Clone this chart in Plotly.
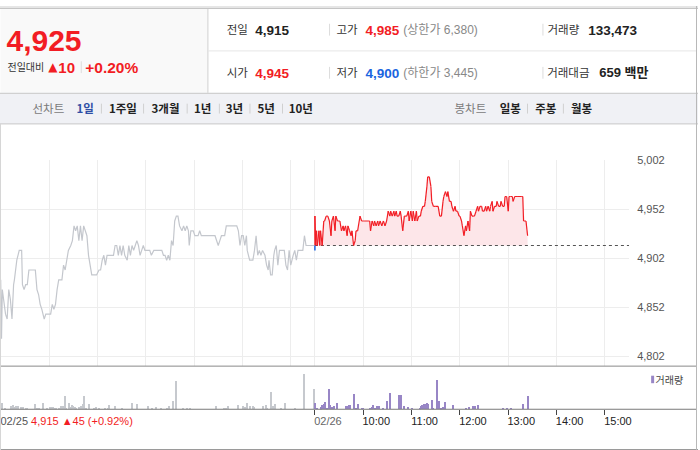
import plotly.graph_objects as go

W, H = 700, 450


def px(x):
    return x / W


def py(y):
    return 1 - y / H


# ---------------- header data ----------------
stock_price = 4925
change_abs = 10
change_pct = 0.20
prev_close = 4915
open_price = 4945
high_price = 4985
low_price = 4900
upper_limit = 6380
lower_limit = 3445
volume_total = 133473
amount_mil = 659

day1_label = "02/25"
day1_close = 4915
day1_change = 45
day1_change_pct = 0.92
day2_label = "02/26"
session_minutes = 390

period_tabs = ["1일", "1주일", "3개월", "1년", "3년", "5년", "10년"]
candle_tabs = ["일봉", "주봉", "월봉"]

# ---------------- price series (minutes from 09:00) ----------------
d1_min = [0, 1, 2, 4, 6, 8, 10, 12, 14, 16, 17, 20, 23, 26, 27, 29, 31, 33, 35, 39, 43, 45, 47, 49, 51, 54, 56,
          62, 64, 66, 68, 70, 72, 76, 78, 80, 82, 84, 87, 89, 91, 93, 95, 97, 99, 101, 103, 105, 107, 109, 111,
          113, 119, 122, 124, 126, 128, 130, 132, 134, 136, 140, 142, 144, 146, 148, 150, 152, 154, 157, 159,
          161, 163, 165, 167, 169, 171, 173, 175, 177, 179, 185, 187, 190, 200, 202, 204, 206, 208, 210, 212,
          214, 216, 218, 220, 222, 225, 227, 229, 231, 233, 234, 236, 239, 241, 245, 247, 249, 266, 268, 270,
          272, 274, 278, 280, 293, 295, 297, 299, 301, 303, 305, 306, 309, 313, 315, 317, 319, 321, 323, 325,
          328, 330, 332, 333, 335, 337, 339, 340, 342, 344, 346, 352, 354, 356, 358, 360, 363, 365, 367, 369,
          373, 375, 377, 379, 389]
d1_price = [4880, 4820, 4870, 4855, 4845, 4840, 4870, 4860, 4840, 4875, 4880, 4900, 4910, 4910, 4875, 4870,
            4875, 4875, 4890, 4890, 4890, 4870, 4865, 4855, 4850, 4840, 4845, 4845, 4855, 4850, 4855, 4870,
            4880, 4880, 4895, 4890, 4900, 4910, 4915, 4920, 4935, 4930, 4935, 4920, 4935, 4920, 4935, 4930,
            4925, 4905, 4895, 4885, 4885, 4890, 4890, 4900, 4905, 4895, 4905, 4905, 4905, 4905, 4915, 4915,
            4905, 4915, 4905, 4915, 4905, 4900, 4915, 4905, 4915, 4910, 4915, 4920, 4915, 4905, 4910, 4915,
            4910, 4910, 4905, 4910, 4910, 4905, 4905, 4900, 4905, 4900, 4920, 4915, 4940, 4945, 4945, 4935,
            4930, 4935, 4930, 4935, 4930, 4915, 4930, 4930, 4925, 4925, 4930, 4925, 4925, 4920, 4915, 4920,
            4925, 4925, 4935, 4935, 4930, 4915, 4925, 4925, 4915, 4925, 4910, 4900, 4900, 4910, 4925, 4905,
            4910, 4905, 4910, 4905, 4895, 4890, 4900, 4885, 4885, 4905, 4910, 4915, 4895, 4910, 4910, 4895,
            4890, 4910, 4895, 4905, 4910, 4900, 4910, 4910, 4910, 4925, 4915, 4915]

d2_min = [0, 0, 1, 2, 3, 5, 6, 7, 9, 11, 12, 14, 16, 18, 20, 21, 23, 25, 26, 28, 30, 31, 33, 35, 36, 38, 40,
          41, 43, 45, 46, 48, 50, 51, 53, 55, 56, 58, 60, 62, 66, 68, 69, 71, 73, 74, 76, 78, 79, 81, 83, 85,
          87, 89, 91, 93, 94, 96, 98, 99, 101, 102, 104, 106, 107, 109, 111, 112, 114, 116, 117, 119, 121, 122,
          124, 126, 127, 129, 131, 132, 134, 136, 137, 139, 140, 142, 144, 145, 147, 149, 150, 153, 155, 157,
          159, 160, 162, 164, 165, 167, 169, 170, 172, 174, 175, 177, 179, 180, 182, 183, 185, 187, 188, 190,
          192, 193, 195, 197, 198, 200, 202, 203, 205, 207, 208, 210, 212, 213, 215, 217, 218, 220, 221, 223,
          225, 226, 228, 230, 231, 233, 235, 236, 238, 240, 241, 243, 245, 246, 248, 252, 256, 258, 259, 262,
          264]
d2_price = [4910, 4945, 4915, 4930, 4915, 4930, 4915, 4930, 4915, 4940, 4940, 4945, 4945, 4940, 4925, 4940,
            4945, 4930, 4945, 4940, 4940, 4940, 4930, 4935, 4930, 4935, 4925, 4935, 4930, 4925, 4930, 4915,
            4920, 4930, 4930, 4940, 4945, 4940, 4940, 4940, 4940, 4940, 4930, 4940, 4935, 4940, 4935, 4940,
            4935, 4940, 4935, 4940, 4935, 4940, 4950, 4945, 4950, 4945, 4950, 4945, 4950, 4945, 4945, 4950,
            4945, 4930, 4945, 4945, 4945, 4950, 4940, 4950, 4940, 4950, 4940, 4950, 4940, 4945, 4945, 4950,
            4955, 4955, 4960, 4975, 4985, 4985, 4975, 4960, 4955, 4955, 4955, 4955, 4945, 4945, 4960, 4965,
            4970, 4965, 4970, 4960, 4960, 4955, 4950, 4955, 4950, 4950, 4945, 4945, 4940, 4935, 4925, 4935,
            4930, 4940, 4930, 4950, 4945, 4945, 4945, 4950, 4955, 4950, 4955, 4955, 4950, 4950, 4955, 4950,
            4955, 4950, 4955, 4960, 4950, 4955, 4955, 4960, 4955, 4955, 4960, 4955, 4955, 4965, 4965, 4950,
            4965, 4965, 4965, 4960, 4965, 4965, 4965, 4965, 4940, 4940, 4925]

# ---------------- volume series ----------------
v1_min = [2, 5, 13, 15, 18, 19, 21, 25, 28, 32, 33, 42, 45, 48, 53, 57, 61, 63, 65, 67, 69, 73, 75, 77, 80, 81,
          85, 87, 89, 90, 92, 94, 97, 100, 102, 103, 106, 110, 116, 118, 122, 130, 133, 135, 142, 151, 163, 169,
          183, 188, 193, 199, 207, 209, 214, 217, 218, 226, 231, 235, 267, 277, 280, 282, 294, 301, 303, 306,
          310, 313, 315, 326, 329, 330, 335, 336, 338, 341, 348, 353, 365, 376, 377, 389]
v1_vol = [2680, 400, 1200, 1480, 920, 1080, 1080, 800, 800, 400, 400, 1880, 400, 400, 2280, 400, 680, 800, 680,
          520, 400, 520, 1080, 1320, 5200, 520, 2280, 800, 1480, 1320, 800, 520, 800, 1200, 1880, 5200, 400,
          1880, 520, 800, 400, 520, 400, 1600, 1080, 400, 2280, 1880, 1080, 400, 800, 400, 520, 1080, 3200,
          11600, 400, 400, 400, 400, 1080, 400, 400, 1080, 1600, 1080, 800, 2280, 1080, 1080, 800, 1080, 1480,
          520, 6800, 1880, 1080, 1880, 400, 2280, 400, 14400, 4400, 8000]
v2_min = [0, 2, 7, 8, 9, 11, 13, 15, 17, 19, 20, 22, 24, 27, 38, 40, 42, 43, 49, 51, 54, 58, 60, 69, 71, 72, 74,
          77, 79, 84, 90, 93, 104, 107, 110, 115, 120, 130, 132, 133, 135, 138, 139, 141, 145, 147, 151, 152,
          154, 156, 157, 159, 161, 162, 171, 187, 191, 196, 199, 202, 233, 238, 243, 258, 264]
v2_vol = [2280, 400, 400, 800, 1600, 2120, 2800, 400, 8000, 1600, 800, 680, 1200, 2400, 1320, 1200, 1600, 1720,
          6000, 400, 1880, 400, 400, 520, 800, 1600, 400, 1200, 1200, 520, 3200, 6400, 5600, 5880, 1200, 920,
          400, 520, 1200, 1720, 1880, 2000, 2400, 2120, 3600, 400, 6400, 12000, 3320, 280, 520, 800, 2800, 520,
          1600, 520, 800, 1200, 1080, 1600, 400, 400, 400, 2000, 5200]

y_ticks = [4802, 4852, 4902, 4952, 5002]
hour_labels = ["10:00", "11:00", "12:00", "13:00", "14:00", "15:00"]

# ---------------- colours ----------------
RED = "#f21d24"
BLUE = "#1a64e0"
GRAY_LINE = "#c4c7cd"
GRAY_BAR = "#c6c9ce"
PURPLE = "#9886c6"
PINK = "#fde6e9"
GRID = "#ededed"

NUM = "Liberation Sans, Noto Sans CJK KR, sans-serif"
KR = "Noto Sans CJK KR, sans-serif"

d2_x = [session_minutes + m for m in d2_min]
v2_x = [session_minutes + m for m in v2_min]


def split_segments(xs, ys, base):
    rx, ry, bx, by = [], [], [], []
    for i in range(len(xs) - 1):
        x0, y0, x1, y1 = xs[i], ys[i], xs[i + 1], ys[i + 1]
        if y0 >= base and y1 >= base:
            rx += [x0, x1, None]
            ry += [y0, y1, None]
        elif y0 <= base and y1 <= base:
            bx += [x0, x1, None]
            by += [y0, y1, None]
        else:
            t = (base - y0) / (y1 - y0)
            xc = x0 + t * (x1 - x0)
            if y0 < base:
                bx += [x0, xc, None]
                by += [y0, base, None]
                rx += [xc, x1, None]
                ry += [base, y1, None]
            else:
                rx += [x0, xc, None]
                ry += [y0, base, None]
                bx += [xc, x1, None]
                by += [base, y1, None]
    return rx, ry, bx, by


rx, ry, bx, by = split_segments(d2_x, d2_price, prev_close)

fig = go.Figure()

# day 1 grey line
fig.add_trace(go.Scatter(x=d1_min, y=d1_price, mode="lines",
                         line=dict(color=GRAY_LINE, width=1.2), hoverinfo="skip"))
# fill area day 2
fig.add_trace(go.Scatter(x=d2_x, y=[prev_close] * len(d2_x), mode="lines",
                         line=dict(width=0, color="rgba(0,0,0,0)"), hoverinfo="skip"))
fig.add_trace(go.Scatter(x=d2_x, y=[max(p, prev_close) for p in d2_price], mode="lines",
                         line=dict(width=0, color="rgba(0,0,0,0)"), fill="tonexty",
                         fillcolor=PINK, hoverinfo="skip"))
# previous close dotted line
fig.add_trace(go.Scatter(x=[session_minutes, 2 * session_minutes], y=[prev_close, prev_close],
                         mode="lines", line=dict(color="#555555", width=1, dash="dot"), hoverinfo="skip"))
fig.add_trace(go.Scatter(x=rx, y=ry, mode="lines", line=dict(color=RED, width=1.2),
                         hoverinfo="skip", connectgaps=False))
fig.add_trace(go.Scatter(x=bx, y=by, mode="lines", line=dict(color=BLUE, width=1.5),
                         hoverinfo="skip", connectgaps=False))

# volume bars
fig.add_trace(go.Bar(x=v1_min, y=v1_vol, width=1.3, marker=dict(color=GRAY_BAR, line=dict(width=0)),
                     xaxis="x2", yaxis="y2", hoverinfo="skip"))
fig.add_trace(go.Bar(x=v2_x, y=v2_vol, width=1.3, marker=dict(color=PURPLE, line=dict(width=0)),
                     xaxis="x2", yaxis="y2", hoverinfo="skip"))

x_range = [-0.87, 2 * session_minutes + 0.1]
grid_x = [60 * k for k in range(1, 7)] + [session_minutes] + [session_minutes + 60 * k for k in range(1, 7)]
tick_x = [0, session_minutes] + [session_minutes + 60 * k for k in range(1, 7)]
tick_text = ["", f"<span style='color:#666'>{day2_label}</span>"] + hour_labels

fig.update_layout(
    width=W, height=H, margin=dict(l=0, r=0, t=0, b=0),
    paper_bgcolor="white", plot_bgcolor="rgba(0,0,0,0)", showlegend=False, bargap=0,
    xaxis=dict(domain=[0, 631 / W], range=x_range, tickvals=grid_x, showticklabels=False,
               showgrid=True, gridcolor=GRID, gridwidth=1, zeroline=False, showline=False, ticks="",
               anchor="y", fixedrange=True),
    yaxis=dict(domain=[py(365), py(156)], range=[4791.95, 5002.3], side="right", anchor="x",
               tickvals=y_ticks, ticktext=[f"{v:,}" for v in y_ticks], showgrid=True, gridcolor=GRID,
               zeroline=False, showline=False, ticks="", ticklabelstandoff=7,
               tickfont=dict(family=NUM, size=11, color="#555")),
    xaxis2=dict(domain=[0, 631 / W], range=x_range, anchor="y2", tickvals=tick_x, ticktext=tick_text,
                ticks="outside", ticklen=5, tickcolor="#444", tickwidth=1, showgrid=False, zeroline=False,
                showline=False, ticklabelshift=13, ticklabelstandoff=-3,
                tickfont=dict(family=NUM, size=11, color="#222")),
    yaxis2=dict(domain=[py(408.7), py(365)], range=[0, 17480], visible=False, anchor="x2"),
    # full-canvas overlay axes used for placing the header / label texts in pixel units
    xaxis3=dict(domain=[0, 1], range=[0, W], visible=False, anchor="y3", fixedrange=True),
    yaxis3=dict(domain=[0, 1], range=[H, 0], visible=False, anchor="x3", fixedrange=True),
)

shapes = []


def rect(x0, y0, x1, y1, fill, line=None, lw=1):
    shapes.append(dict(type="rect", xref="paper", yref="paper", x0=px(x0), x1=px(x1), y0=py(y1), y1=py(y0),
                       fillcolor=fill, line=dict(width=lw if line else 0, color=line or fill), layer="below"))


def hline(y, x0, x1, color, w=1, layer="above"):
    shapes.append(dict(type="line", xref="paper", yref="paper", x0=px(x0), x1=px(x1), y0=py(y), y1=py(y),
                       line=dict(color=color, width=w), layer=layer))


def vline(x, y0, y1, color, w=1, layer="above"):
    shapes.append(dict(type="line", xref="paper", yref="paper", x0=px(x), x1=px(x), y0=py(y0), y1=py(y1),
                       line=dict(color=color, width=w), layer=layer))


# header
rect(0, 0, 700, 2.5, "#e6e6e6")
hline(2.5, 0, 700, "#c3c3c3")
rect(0.5, 3, 208, 88, "#f9f9f9")
vline(208.5, 3, 88, "#cfcfcf")
hline(45.5, 208.5, 698, "#e6e6e6")
for yy in (24, 67.7):
    vline(330.5, yy - 6, yy + 6, "#dcdcdc")
    vline(544.5, yy - 6, yy + 6, "#dcdcdc")
vline(81.5, 56, 68, "#dcdcdc")
# nav bar
rect(0, 88, 700, 119.5, "#f0f1f5")
hline(88.5, 0, 700, "#c8c8c8")
hline(119.5, 0, 700, "#c8c8c8")
for xx in (101.7, 144, 187.7, 220, 250.7, 283.3, 529, 565):
    vline(xx, 99, 109, "#d0d0d0")
# chart frame
hline(365, 0, 698, "#8a8a8a")
hline(408.7, 0, 698, "#7a7a7a")
hline(449.5, 0, 700, "#9a9a9a")
vline(698.5, 0, 450, "#b8b8b8")
vline(0.5, 119.5, 450, "#d6d6d6")
# volume legend swatch
rect(653, 374.7, 656, 382.3, PURPLE)

fig.update_layout(shapes=shapes)


def txt(x, y, text, size, color, family=NUM, anchor="left"):
    # y = visual centre of the glyphs (pixels from top); scatter text baseline sits 0.25*size below point
    pos = {"left": "middle right", "center": "middle center", "right": "middle left"}[anchor]
    fig.add_trace(go.Scatter(x=[x], y=[y + 0.11 * size], mode="text", text=[text], textposition=pos,
                             textfont=dict(family=family, size=size, color=color), marker=dict(size=0),
                             xaxis="x3", yaxis="y3", hoverinfo="skip", cliponaxis=False))


# left panel
txt(6.5, 35, f"<b>{stock_price:,}</b>", 30, RED)
txt(7.5, 62, "전일대비", 10, "#333", KR)
txt(53, 62, "▲", 12, RED, "DejaVu Sans", "center")
txt(58.5, 62, f"<b>{change_abs}</b>", 15, RED)
txt(85.5, 62, f"<b>+{change_pct:.2f}%</b>", 15.5, RED)

# right panel rows
row1, row2 = 24, 67.7
txt(238, row1, "전일", 11.5, "#333", KR, "center")
txt(256, row1, f"<b>{prev_close:,}</b>", 13.5, "#222")
txt(348, row1, "고가", 11.5, "#333", KR, "center")
txt(366.5, row1, f"<b>{high_price:,}</b>", 13.5, RED)
txt(404.5, row1, f"(상한가 {upper_limit:,})", 12, "#888", NUM)
txt(565, row1, "거래량", 11.5, "#333", KR, "center")
txt(590, row1, f"<b>{volume_total:,}</b>", 13.5, "#222")

txt(238, row2, "시가", 11.5, "#333", KR, "center")
txt(256, row2, f"<b>{open_price:,}</b>", 13.5, RED)
txt(348, row2, "저가", 11.5, "#333", KR, "center")
txt(366.5, row2, f"<b>{low_price:,}</b>", 13.5, BLUE)
txt(404.5, row2, f"(하한가 {lower_limit:,})", 12, "#888", NUM)
txt(570, row2, "거래대금", 11.5, "#333", KR, "center")
txt(601, row2, f"<b>{amount_mil} 백만</b>", 13, "#222")

# nav bar
nav_y = 104
txt(48.5, nav_y, "선차트", 11.5, "#7a7a7a", KR, "center")
tab_centers = [85.5, 123.3, 166, 203.3, 235, 267, 301.7]
for i, (lab, cx) in enumerate(zip(period_tabs, tab_centers)):
    txt(cx, nav_y, f"<b>{lab}</b>", 11.5, "#2f4fa5" if i == 0 else "#222", KR, "center")
txt(471.7, nav_y, "봉차트", 11.5, "#7a7a7a", KR, "center")
for lab, cx in zip(candle_tabs, [511.7, 547.3, 583.3]):
    txt(cx, nav_y, f"<b>{lab}</b>", 11.5, "#222", KR, "center")

# volume legend
txt(657.5, 379, "거래량", 10, "#444", KR)

# day1 label under axis
txt(0.5, 421, f"<span style='color:#555'>{day1_label}</span> "
              f"<span style='color:{RED}'>{day1_close:,} ▲{day1_change} (+{day1_change_pct:.2f}%)</span>",
    11, "#555")

page_fix = (
    "document.documentElement.style.margin='0';document.documentElement.style.padding='0';"
    "document.documentElement.style.overflow='hidden';"
    "document.body.style.margin='0';document.body.style.padding='0';document.body.style.overflow='hidden';"
    "var gd=document.getElementById('{plot_id}');"
    "if(gd){gd.style.position='fixed';gd.style.top='0px';gd.style.left='0px';gd.style.margin='0';}"
)
fig.write_html("out.html", config={"displayModeBar": False}, post_script=page_fix)
